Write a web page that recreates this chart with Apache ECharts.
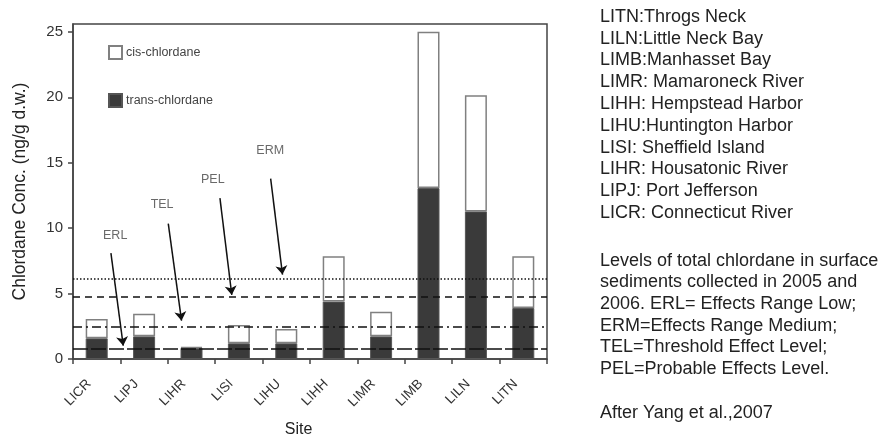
<!DOCTYPE html>
<html>
<head>
<meta charset="utf-8">
<script src="https://cdn.jsdelivr.net/npm/echarts@6/dist/echarts.min.js"></script>
<style>
html,body{margin:0;padding:0;background:#fff;}
#chart{width:883px;height:437px;}
</style>
</head>
<body>
<div id="chart"></div>
<script>
// ---- data ----
var sites = ['LICR','LIPJ','LIHR','LISI','LIHU','LIHH','LIMR','LIMB','LILN','LITN'];
var transValues = [1.58, 1.73, 0.85, 1.20, 1.20, 4.39, 1.73, 13.06, 11.28, 3.90];
var cisValues   = [1.48, 1.72, 0.07, 1.40, 1.10, 3.47, 1.89, 11.94, 8.88, 3.96];
var yTicks = [0, 5, 10, 15, 20, 25];

// guideline levels (ng/g d.w.)
var levelNames  = ['ERM', 'PEL', 'TEL', 'ERL'];
var levelValues = [6.13, 4.72, 2.47, 0.77];

// annotation arrows: [x (category units from left edge), y]
var arrowStart = [[0.80, 8.09], [2.01, 10.34], [3.10, 12.30], [4.17, 13.78]];
var arrowEnd   = [[1.06, 1.02], [2.29, 2.93], [3.35, 4.90], [4.42, 6.45]];
var arrowLabelNames = ['ERL', 'TEL', 'PEL', 'ERM'];
var arrowLabelPos   = [[0.89, 9.4], [1.88, 11.8], [2.95, 13.7], [4.16, 15.95]];

var siteKey = ['LITN:Throgs Neck','LILN:Little Neck Bay','LIMB:Manhasset Bay','LIMR: Mamaroneck River',
  'LIHH: Hempstead Harbor','LIHU:Huntington Harbor','LISI: Sheffield Island','LIHR: Housatonic River',
  'LIPJ: Port Jefferson','LICR: Connecticut River'];
var captionLines = ['Levels of total chlordane in surface','sediments collected in 2005 and',
  '2006. ERL= Effects Range Low;','ERM=Effects Range Medium;','TEL=Threshold Effect Level;',
  'PEL=Probable Effects Level.'];
var sourceLine = 'After Yang et al.,2007';

// ---- styles ----
var FONT = 'Liberation Sans, Arial, sans-serif';
var lineTypes = {
  ERM: [1.5, 2],
  PEL: [7, 5],
  TEL: [9, 4, 2, 4],
  ERL: [15, 3]
};

var chart = echarts.init(document.getElementById('chart'));

var markLines = levelNames.map(function (n, i) {
  return {
    name: n,
    yAxis: levelValues[i],
    lineStyle: { type: lineTypes[n], color: '#111', width: 1.6 }
  };
});

var arrowData = arrowStart.map(function (s, i) {
  return { coords: [s, arrowEnd[i]] };
});
var arrowLabelData = arrowLabelPos.map(function (p, i) {
  return { name: arrowLabelNames[i], value: p };
});

var option = {
  backgroundColor: '#fff',
  animation: false,
  textStyle: { fontFamily: FONT },
  grid: {
    left: 73, top: 24, width: 474, height: 335,
    outerBoundsMode: 'none',
    containLabel: false,
    show: true, borderColor: '#444', borderWidth: 1.5, backgroundColor: 'transparent'
  },
  legend: {
    orient: 'vertical', left: 103, top: 40,
    itemWidth: 13, itemHeight: 13, itemGap: 33,
    icon: 'rect',
    data: ['cis-chlordane', 'trans-chlordane'],
    textStyle: { fontSize: 12.5, color: '#444', fontFamily: FONT, padding: [0, 0, 0, -1] }
  },
  xAxis: [{
    type: 'category',
    data: sites,
    boundaryGap: true,
    name: 'Site',
    nameLocation: 'middle',
    nameGap: 63,
    nameTextStyle: { fontSize: 16, color: '#222', fontFamily: FONT, padding: [0, 23, 0, 0] },
    axisLine: { show: true, lineStyle: { color: '#444', width: 1.5 } },
    axisTick: { show: true, length: 5, lineStyle: { color: '#444', width: 1.5 } },
    axisLabel: { rotate: 45, fontSize: 13.5, color: '#333', margin: 15, padding: [0, 11, 0, 0], interval: 0 },
    splitLine: { show: false }
  }, {
    type: 'value', min: 0, max: 10, show: false
  }],
  yAxis: {
    type: 'value',
    min: 0, max: 25.6, interval: 5,
    name: 'Chlordane Conc. (ng/g d.w.)',
    nameLocation: 'middle',
    nameGap: 44,
    nameTextStyle: { fontSize: 17.5, color: '#222', fontFamily: FONT },
    axisLine: { show: true, lineStyle: { color: '#444', width: 1.5 } },
    axisTick: { show: true, length: 5, lineStyle: { color: '#444', width: 1.5 } },
    axisLabel: { fontSize: 15, color: '#333', margin: 10, showMaxLabel: false },
    splitLine: { show: false }
  },
  series: [{
    name: 'trans-chlordane',
    type: 'bar',
    stack: 'total',
    barWidth: 22,
    data: transValues,
    itemStyle: { color: '#3a3a3a', borderColor: '#555', borderWidth: 1 }
  }, {
    name: 'cis-chlordane',
    type: 'bar',
    stack: 'total',
    barWidth: 22,
    data: cisValues,
    itemStyle: { color: '#ffffff', borderColor: '#808080', borderWidth: 1.5 }
  }, {
    name: 'levels',
    type: 'line',
    data: [],
    z: 5,
    markLine: {
      silent: true,
      symbol: ['none', 'none'],
      label: { show: false },
      data: markLines
    }
  }, {
    name: 'arrows',
    type: 'lines',
    coordinateSystem: 'cartesian2d',
    xAxisIndex: 1,
    yAxisIndex: 0,
    z: 6,
    symbol: ['none', 'arrow'],
    symbolSize: 9,
    lineStyle: { color: '#111', width: 1.5, opacity: 1 },
    data: arrowData
  }, {
    name: 'arrowLabels',
    type: 'scatter',
    xAxisIndex: 1,
    yAxisIndex: 0,
    symbolSize: 1,
    itemStyle: { color: 'rgba(0,0,0,0)' },
    label: {
      show: true, position: 'inside', formatter: '{b}',
      fontSize: 12.5, color: '#444', fontFamily: FONT
    },
    data: arrowLabelData
  }],
  graphic: [{
    type: 'text', left: 600, top: 6,
    style: { text: siteKey.join('\n'), font: '18px ' + FONT, fill: '#222', lineHeight: 21.8 }
  }, {
    type: 'text', left: 600, top: 249.8,
    style: { text: captionLines.join('\n'), font: '18px ' + FONT, fill: '#222', lineHeight: 21.7 }
  }, {
    type: 'text', left: 600, top: 402.4,
    style: { text: sourceLine, font: '18px ' + FONT, fill: '#222', lineHeight: 21.8 }
  }]
};

chart.setOption(option);
</script>
</body>
</html>
